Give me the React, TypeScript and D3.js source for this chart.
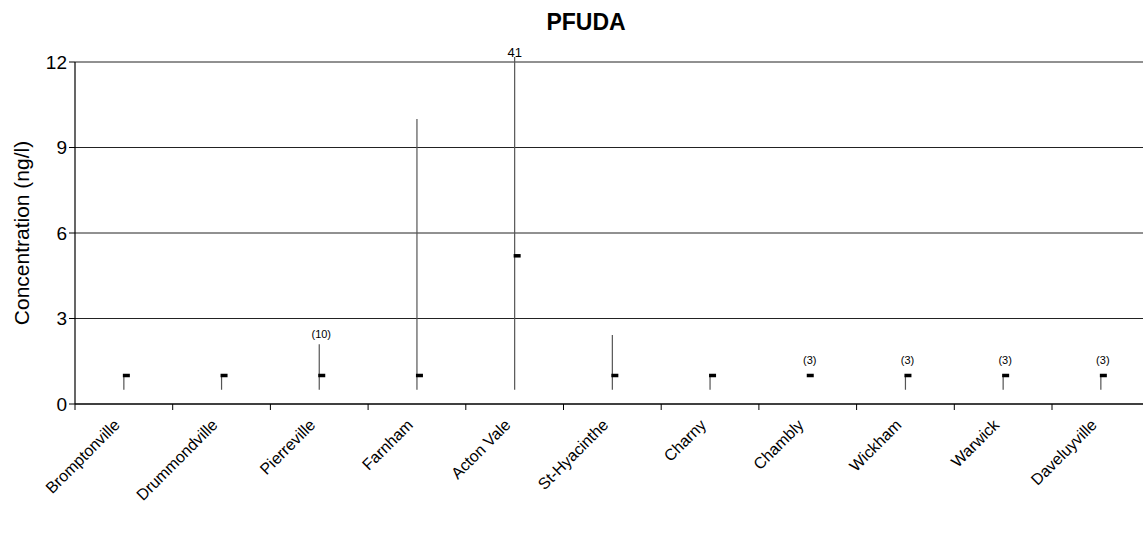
import React from "react";
import * as d3 from "d3";

const categories = ["Bromptonville","Drummondville","Pierreville","Farnham","Acton Vale","St-Hyacinthe","Charny","Chambly","Wickham","Warwick","Daveluyville"];
const medians = [1, 1, 1, 1, 5.2, 1, 1, 1, 1, 1, 1];
const lows = [0.5, 0.5, 0.5, 0.5, 0.5, 0.5, 0.5, 1, 0.5, 0.5, 0.5];
const highs = [1, 1, 2.1, 10, 41, 2.42, 1, 1, 1, 1, 1];
const nLabels = ["", "", "(10)", "", "", "", "", "(3)", "(3)", "(3)", "(3)"];
const yTicks = [0, 3, 6, 9, 12];

export default function App() {
  const W = 1143, H = 539;
  const left = 75, top = 62, bottom = 404;
  const step = 97.7;
  const x = d3.scaleBand<string>().domain(categories).range([left, left + step * categories.length]).paddingInner(0).paddingOuter(0);
  const y = d3.scaleLinear().domain([0, 12]).range([bottom, top]);
  const right = left + step * categories.length;
  const font = "Arial, 'Liberation Sans', sans-serif";
  return (
    <svg width={W} height={H} style={{ position: "absolute", left: 0, top: 0, background: "#fff" }} fontFamily={font}>
      <text x={586} y={30} textAnchor="middle" fontSize={23} fontWeight="bold">PFUDA</text>
      {yTicks.filter(t => t > 0).map(t => (
        <line key={"g" + t} x1={left} x2={right} y1={y(t)} y2={y(t)} stroke="#222" strokeWidth={1} />
      ))}
      <line x1={left} x2={left} y1={top} y2={bottom} stroke="#000" strokeWidth={1.2} />
      <line x1={left} x2={right} y1={bottom} y2={bottom} stroke="#000" strokeWidth={1.5} />
      {yTicks.map(t => (
        <g key={"t" + t}>
          <line x1={left - 6} x2={left} y1={y(t)} y2={y(t)} stroke="#000" />
          <text x={left - 8} y={y(t)} dy="0.36em" textAnchor="end" fontSize={19}>{t}</text>
        </g>
      ))}
      {categories.map((c, i) => (
        <line key={"xt" + i} x1={x(c)!} x2={x(c)!} y1={bottom} y2={bottom + 6} stroke="#000" />
      ))}
      <text transform={`translate(29,${(top + bottom) / 2}) rotate(-90)`} textAnchor="middle" fontSize={21}>Concentration (ng/l)</text>
      {categories.map((c, i) => {
        const cx = x(c)! + x.bandwidth() / 2;
        const hi = Math.min(highs[i], 12);
        return (
          <g key={"m" + i}>
            {highs[i] > lows[i] && (
              <line x1={cx} x2={cx} y1={y(lows[i])} y2={y(hi) - (highs[i] > 12 ? 5 : 0)} stroke="#555" strokeWidth={1.2} />
            )}
            <rect x={cx - 1} y={y(medians[i]) - 1.75} width={7} height={3.5} fill="#000" />
            {highs[i] > 12 && (
              <text x={cx} y={57} textAnchor="middle" fontSize={13}>{highs[i]}</text>
            )}
            {nLabels[i] && (
              <text x={cx + 2} y={Math.min(y(highs[i]), y(medians[i])) - (highs[i] > medians[i] ? 6 : 12)} textAnchor="middle" fontSize={11}>{nLabels[i]}</text>
            )}
            <text transform={`translate(${cx - 3},${bottom + 22}) rotate(-45)`} textAnchor="end" fontSize={16}>{c}</text>
          </g>
        );
      })}
    </svg>
  );
}
